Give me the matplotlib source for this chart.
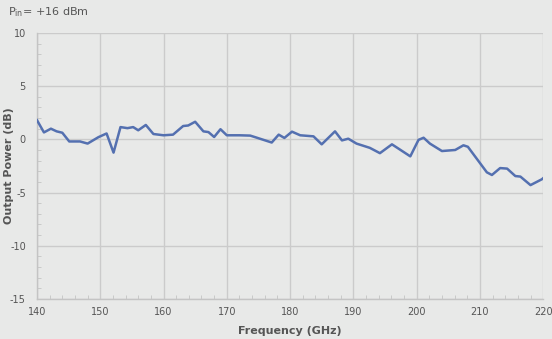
import numpy as np
import matplotlib.pyplot as plt
from matplotlib.ticker import MultipleLocator

# values
freq_ghz = [140, 141.1, 142.2, 143.1, 144, 145.1, 146.8, 148, 149.7, 151, 152.1,
            153.2, 154.3, 155.2, 156, 157.2, 158.4, 160, 161.5, 163.1, 163.9,
            165, 166.3, 167.1, 168, 169, 170, 172, 173.7, 174.5, 177.1, 178.2,
            179.1, 180.3, 181.6, 183.7, 185, 187.1, 188.2, 189.2, 190.5, 192.6,
            194.2, 196.1, 199, 200.3, 201.1, 202.1, 204, 206.1, 207.4, 208.1,
            211.1, 211.9, 213.2, 214.3, 215.6, 216.4, 218, 219.8, 220]
power_db = [1.8, 0.65, 1.0, 0.75, 0.62, -0.2, -0.2, -0.4, 0.2, 0.55, -1.25,
            1.15, 1.05, 1.15, 0.85, 1.35, 0.5, 0.38, 0.44, 1.25, 1.3,
            1.65, 0.75, 0.68, 0.22, 0.95, 0.38, 0.38, 0.35, 0.2, -0.3, 0.44,
            0.13, 0.72, 0.38, 0.28, -0.47, 0.75, -0.1, 0.06, -0.4, -0.8,
            -1.3, -0.47, -1.6, -0.05, 0.15, -0.4, -1.1, -1.0, -0.56, -0.7,
            -3.1, -3.35, -2.7, -2.75, -3.45, -3.5, -4.3, -3.75, -3.65]

plt.rcParams["axes.unicode_minus"] = False

bg = "#e8e9e8"
text_color = "#555555"

fig = plt.figure(figsize=(5.52, 3.39), dpi=100, facecolor=bg)
ax = fig.add_axes([0.067, 0.118, 0.917, 0.785], facecolor=bg)

ax.plot(freq_ghz, power_db, color="#5470b0", linewidth=1.8, zorder=3)

ax.set_xlim(140, 220)
ax.set_ylim(-15, 10)
ax.xaxis.set_major_locator(MultipleLocator(10))
ax.xaxis.set_minor_locator(MultipleLocator(2))
ax.yaxis.set_major_locator(MultipleLocator(5))
ax.yaxis.set_minor_locator(MultipleLocator(1))
ax.grid(which="major", color="#cbcbcb", linewidth=1.0)

for side in ["top", "right"]:
    ax.spines[side].set_visible(False)
for side in ["left", "bottom"]:
    ax.spines[side].set_color("#c4c4c4")
    ax.spines[side].set_linewidth(1.0)

ax.tick_params(which="both", direction="in", colors="#c4c4c4",
               labelcolor=text_color, labelsize=7)
ax.tick_params(which="major", length=0, pad=6)
ax.tick_params(axis="y", which="major", pad=8)
ax.tick_params(which="minor", length=3)

ax.set_xlabel("Frequency (GHz)", fontsize=8, fontweight="bold",
              color=text_color)
ax.xaxis.set_label_coords(0.5, -0.1)
ax.set_ylabel("Output Power (dB)", fontsize=8, fontweight="bold",
              color=text_color)
ax.yaxis.set_label_coords(-0.045, 0.5)

fig.text(0.014, 0.955, r"P$_{\mathregular{in}}$= +16 dBm", fontsize=8,
         color=text_color)

fig.savefig("out.png", dpi=100, facecolor=bg)
